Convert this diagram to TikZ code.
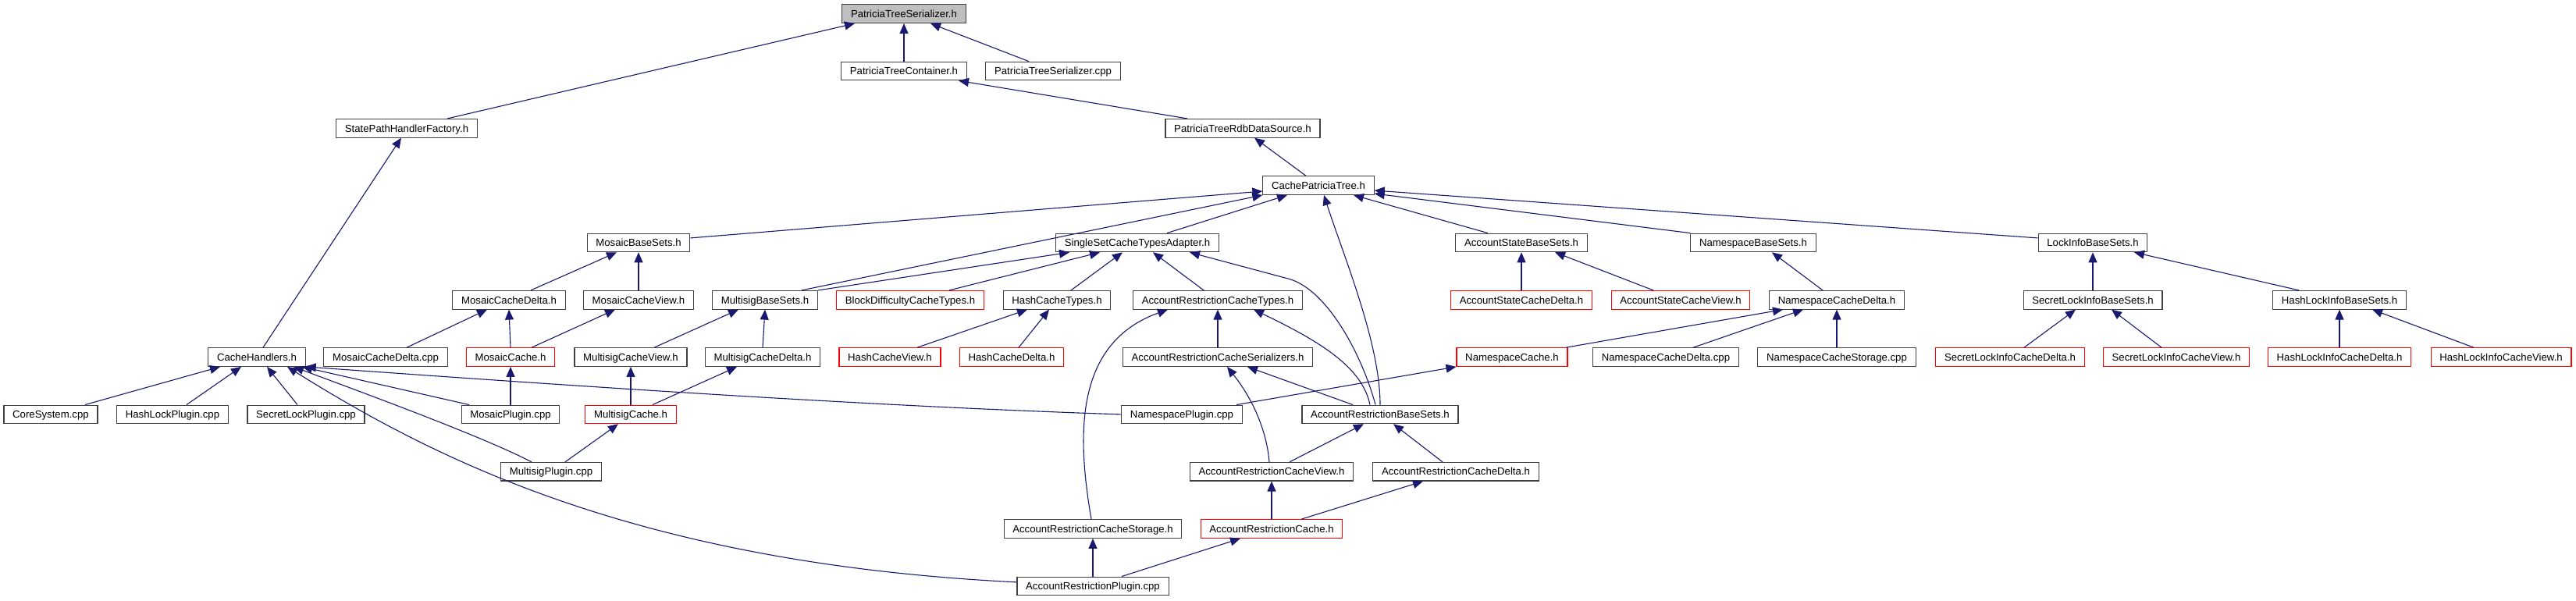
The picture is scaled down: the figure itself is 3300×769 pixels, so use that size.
\documentclass[tikz,border=0pt]{standalone}
\usepackage{fontspec}
\setmainfont{Liberation Sans}
\usetikzlibrary{arrows.meta,calc}
\definecolor{edgecol}{HTML}{191970}
\definecolor{boxgray}{HTML}{404040}
\definecolor{rootfill}{HTML}{BFBFBF}
\definecolor{boxred}{HTML}{FF0000}
\tikzset{
  file/.style={draw=boxgray, line width=1.1pt, fill=white, rectangle, inner xsep=11.2pt, inner ysep=0pt,
    minimum height=23.6pt, text height=9.5pt, text depth=0pt, font=\fontsize{13.2}{15}\selectfont, text=black},
  redfile/.style={file, draw=boxred},
  rootfile/.style={file, fill=rootfill},
  dep/.style={draw=edgecol, line width=1.1pt, -{Triangle[length=13pt,width=11pt]}},
}
\begin{document}
\begin{tikzpicture}[x=1pt,y=-1pt]
\fill[white] (0,0) rectangle (3300,769);
\path[use as bounding box] (0,0) rectangle (3300,769);

% row 0-3
\node[rootfile] (pts) at (1158,17.65) {PatriciaTreeSerializer.h};
\node[file] (ptc) at (1158,90.97) {PatriciaTreeContainer.h};
\node[file] (ptscpp) at (1349,90.97) {PatriciaTreeSerializer.cpp};
\node[file] (sphf) at (521,164.29) {StatePathHandlerFactory.h};
\node[file] (ptrds) at (1592,164.29) {PatriciaTreeRdbDataSource.h};
\node[file] (cpt) at (1689,237.61) {CachePatriciaTree.h};
% row 4
\node[file] (mbs) at (818,310.93) {MosaicBaseSets.h};
\node[file] (sscta) at (1457,310.93) {SingleSetCacheTypesAdapter.h};
\node[file] (asbs) at (1949,310.93) {AccountStateBaseSets.h};
\node[file] (nbs) at (2246,310.93) {NamespaceBaseSets.h};
\node[file] (libs) at (2681,310.93) {LockInfoBaseSets.h};
% row 5
\node[file] (mcd) at (652,384.25) {MosaicCacheDelta.h};
\node[file] (mcv) at (818,384.25) {MosaicCacheView.h};
\node[file] (msbs) at (980,384.25) {MultisigBaseSets.h};
\node[redfile] (bdct) at (1166,384.25) {BlockDifficultyCacheTypes.h};
\node[file] (hct) at (1354,384.25) {HashCacheTypes.h};
\node[file] (arct) at (1560,384.25) {AccountRestrictionCacheTypes.h};
\node[redfile] (ascd) at (1949,384.25) {AccountStateCacheDelta.h};
\node[redfile] (ascv) at (2153,384.25) {AccountStateCacheView.h};
\node[file] (nscd) at (2353,384.25) {NamespaceCacheDelta.h};
\node[file] (slibs) at (2681,384.25) {SecretLockInfoBaseSets.h};
\node[file] (hlibs) at (2997,384.25) {HashLockInfoBaseSets.h};
% row 6
\node[file] (ch) at (329,457.57) {CacheHandlers.h};
\node[file] (mcdcpp) at (494,457.57) {MosaicCacheDelta.cpp};
\node[redfile] (mc) at (654,457.57) {MosaicCache.h};
\node[file] (mscv) at (808,457.57) {MultisigCacheView.h};
\node[file] (mscd) at (977,457.57) {MultisigCacheDelta.h};
\node[redfile] (hcv) at (1140,457.57) {HashCacheView.h};
\node[redfile] (hcd) at (1296,457.57) {HashCacheDelta.h};
\node[file] (arcs) at (1560,457.57) {AccountRestrictionCacheSerializers.h};
\node[redfile] (nsc) at (1937,457.57) {NamespaceCache.h};
\node[file] (nscdcpp) at (2134,457.57) {NamespaceCacheDelta.cpp};
\node[file] (nscscpp) at (2353,457.57) {NamespaceCacheStorage.cpp};
\node[redfile] (slicd) at (2575,457.57) {SecretLockInfoCacheDelta.h};
\node[redfile] (slicv) at (2788,457.57) {SecretLockInfoCacheView.h};
\node[redfile] (hlicd) at (2997,457.57) {HashLockInfoCacheDelta.h};
\node[redfile] (hlicv) at (3204,457.57) {HashLockInfoCacheView.h};
% row 7
\node[file] (cscpp) at (65,530.89) {CoreSystem.cpp};
\node[file] (hlpcpp) at (221,530.89) {HashLockPlugin.cpp};
\node[file] (slpcpp) at (392,530.89) {SecretLockPlugin.cpp};
\node[file] (mpcpp) at (654,530.89) {MosaicPlugin.cpp};
\node[redfile] (msc) at (808,530.89) {MultisigCache.h};
\node[file] (nspcpp) at (1514,530.89) {NamespacePlugin.cpp};
\node[file] (arbs) at (1768,530.89) {AccountRestrictionBaseSets.h};
% row 8
\node[file] (mspcpp) at (706,604.21) {MultisigPlugin.cpp};
\node[file] (arcv) at (1629,604.21) {AccountRestrictionCacheView.h};
\node[file] (arcd) at (1865,604.21) {AccountRestrictionCacheDelta.h};
% row 9
\node[file] (arcst) at (1400,677.53) {AccountRestrictionCacheStorage.h};
\node[redfile] (arc) at (1629,677.53) {AccountRestrictionCache.h};
% row 10
\node[file] (arpcpp) at (1400,750.85) {AccountRestrictionPlugin.cpp};

% upper levels
\draw[dep] ($(sphf.north)+(52,0)$) -- ($(pts.south)+(-63,0)$);
\draw[dep] (ptc.north) -- (pts.south);
\draw[dep] ($(ptscpp.north)+(-31,0)$) -- ($(pts.south)+(34,0)$);
\draw[dep] ($(ptrds.north)+(-71,0)$) -- ($(ptc.south)+(70,0)$);
\draw[dep] ($(cpt.north)+(-16,0)$) -- ($(ptrds.south)+(15,0)$);
\draw[dep] ($(ch.north)+(8,0)$) -- ($(sphf.south)+(-7,0)$);
% into CachePatriciaTree
\draw[dep] ($(mbs.east)+(0,-6)$) -- ($(cpt.west)+(0,7.4)$);
\draw[dep] ($(msbs.north)+(47,0)$) -- (cpt.south west);
\draw[dep] ($(sscta.north)+(38,0)$) -- ($(cpt.south)+(-40,0)$);
\draw[dep] (arbs.north) .. controls (1768,440) and (1722,330) .. ($(cpt.south)+(7,0)$);
\draw[dep] ($(asbs.north)+(-43,0)$) -- ($(cpt.south)+(45,0)$);
\draw[dep] (nbs.north west) -- ($(cpt.east)+(0,10.4)$);
\draw[dep] ($(libs.west)+(0,-6)$) -- ($(cpt.east)+(0,6.4)$);
% into MosaicBaseSets
\draw[dep] ($(mcd.north)+(28,0)$) -- ($(mbs.south)+(-28,0)$);
\draw[dep] (mcv.north) -- (mbs.south);
% into SingleSetCacheTypesAdapter
\draw[dep] (msbs.north east) -- ($(sscta.south)+(-87,0)$);
\draw[dep] ($(bdct.north)+(50,0)$) -- ($(sscta.south)+(-48,0)$);
\draw[dep] ($(hct.north)+(18,0)$) -- ($(sscta.south)+(-19,0)$);
\draw[dep] ($(arct.north)+(-18,0)$) -- ($(sscta.south)+(20,0)$);
\draw[dep] ($(arbs.north)+(-6,0)$) .. controls (1745,455) and (1700,370) .. (1650,357) -- ($(sscta.south)+(67,0)$);
% AccountState, Namespace, LockInfo
\draw[dep] (ascd.north) -- (asbs.south);
\draw[dep] ($(ascv.north)+(-35,0)$) -- ($(asbs.south)+(43,0)$);
\draw[dep] ($(nscd.north)+(-18,0)$) -- ($(nbs.south)+(24,0)$);
\draw[dep] (slibs.north) -- (libs.south);
\draw[dep] ($(hlibs.north)+(-52,0)$) -- ($(libs.south)+(53,0)$);
% row 6 to row 5
\draw[dep] ($(mcdcpp.north)+(27,0)$) -- ($(mcd.south)+(-28,0)$);
\draw[dep] (mc.north) -- (mcd.south);
\draw[dep] ($(mc.north)+(27,0)$) -- ($(mcv.south)+(-30,0)$);
\draw[dep] ($(mscv.north)+(30,0)$) -- ($(msbs.south)+(-34,0)$);
\draw[dep] (mscd.north) -- (msbs.south);
\draw[dep] ($(hcv.north)+(35,0)$) -- ($(hct.south)+(-38,0)$);
\draw[dep] ($(hcd.north)+(9,0)$) -- ($(hct.south)+(-10,0)$);
\draw[dep] (arcs.north) -- (arct.south);
\draw[dep] ($(arcst.north)+(-2,0)$) .. controls (1380,560) and (1375,440) .. ($(arct.south)+(-64,0)$);
\draw[dep] ($(arbs.north)+(-13,0)$) .. controls (1745,470) and (1690,437) .. ($(arct.south)+(46,0)$);
\draw[dep] ($(nsc.north)+(69,0)$) -- ($(nscd.south)+(-69,0)$);
\draw[dep] ($(nscdcpp.north)+(35,0)$) -- ($(nscd.south)+(-43,0)$);
\draw[dep] (nscscpp.north) -- (nscd.south);
\draw[dep] ($(slicd.north)+(18,0)$) -- ($(slibs.south)+(-22,0)$);
\draw[dep] ($(slicv.north)+(-19,0)$) -- ($(slibs.south)+(24,0)$);
\draw[dep] (hlicd.north) -- (hlibs.south);
\draw[dep] ($(hlicv.north)+(-35,0)$) -- ($(hlibs.south)+(42,0)$);
% into CacheHandlers
\draw[dep] ($(cscpp.north)+(44,0)$) -- ($(ch.south)+(-47,0)$);
\draw[dep] ($(hlpcpp.north)+(18,0)$) -- ($(ch.south)+(-20,0)$);
\draw[dep] ($(slpcpp.north)+(-11,0)$) -- ($(ch.south)+(13,0)$);
\draw[dep] ($(mpcpp.north)+(-53,0)$) -- ($(ch.south)+(58,0)$);
\draw[dep] ($(mspcpp.north)+(-25,0)$) .. controls (620,560) and (470,505) .. ($(ch.south)+(47,0)$);
\draw[dep] (nspcpp.west) .. controls (1100,520) and (700,492) .. (ch.south east);
\draw[dep] ($(arpcpp.west)+(0,-5)$) .. controls (820,722) and (560,590) .. ($(ch.south)+(39,0)$);
% remaining
\draw[dep] (mpcpp.north) -- (mc.south);
\draw[dep] (msc.north) -- (mscv.south);
\draw[dep] ($(msc.north)+(28,0)$) -- ($(mscd.south)+(-33,0)$);
\draw[dep] ($(mspcpp.north)+(18,0)$) -- ($(msc.south)+(-16,0)$);
\draw[dep] ($(nspcpp.north)+(70,0)$) -- (nsc.south west);
\draw[dep] ($(arbs.north)+(-35,0)$) -- ($(arcs.south)+(38,0)$);
\draw[dep] ($(arcv.north)+(-3,0)$) .. controls (1622,545) and (1600,505) .. ($(arcs.south)+(12,0)$);
\draw[dep] ($(arcv.north)+(23,0)$) -- ($(arbs.south)+(-21,0)$);
\draw[dep] ($(arcd.north)+(-17,0)$) -- ($(arbs.south)+(17,0)$);
\draw[dep] (arc.north) -- (arcv.south);
\draw[dep] ($(arc.north)+(38,0)$) -- ($(arcd.south)+(-42,0)$);
\draw[dep] (arpcpp.north) -- (arcst.south);
\draw[dep] ($(arpcpp.north)+(37,0)$) -- ($(arc.south)+(-40,0)$);
\end{tikzpicture}
\end{document}
